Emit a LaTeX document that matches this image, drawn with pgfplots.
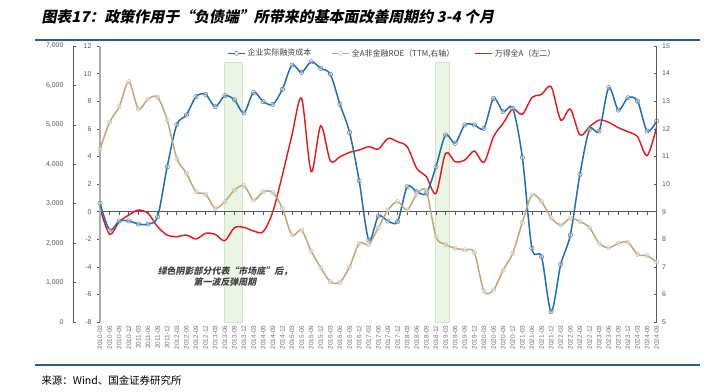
\documentclass[border=0pt]{standalone}
\usepackage{pgfplots}
\pgfplotsset{compat=1.18}
\usepackage{fontspec}
\setmainfont{Liberation Sans}
\newfontfamily\cjk{Noto Sans CJK SC}
\newfontfamily\cjksl{Noto Sans CJK SC}[FakeSlant=0.2]
\definecolor{cBlue}{HTML}{1F6EB4}
\definecolor{cTan}{HTML}{C4A676}
\definecolor{cRed}{HTML}{E8141C}
\definecolor{cBand}{HTML}{EAF5E4}
\definecolor{cBandEdge}{HTML}{D2E4CB}
\definecolor{cRule}{HTML}{2E5E82}
\definecolor{cAxis}{HTML}{595959}
\definecolor{cText}{HTML}{404040}

\pgfplotstableread{
i v
0 0.6
1 -1.33
2 -0.68
3 -0.68
4 -0.9
5 -0.9
6 -0.37
7 3.25
8 6.3
9 7.0
10 8.33
11 8.5
12 7.6
13 8.4
14 8.1
15 7.15
16 8.64
17 7.97
18 7.77
19 8.86
20 10.62
21 10.09
22 10.86
23 10.38
24 9.95
25 7.77
26 5.74
27 2.24
28 -2.06
29 -0.32
30 -0.68
31 -0.73
32 1.8
33 1.44
34 1.33
35 3.25
36 5.55
37 4.95
38 6.28
39 6.28
40 6.03
41 8.2
42 7.24
43 7.48
44 3.93
45 -2.66
46 -3.27
47 -7.25
48 -3.82
49 -1.7
50 2.7
51 5.96
52 5.84
53 8.98
54 7.36
55 8.25
56 8.01
57 5.84
58 6.57
}\blue

\pgfplotstableread{
i v
0 11.27
1 12.24
2 12.8
3 13.71
4 12.72
5 13.08
6 13.14
7 12.32
8 10.93
9 10.39
10 9.72
11 9.63
12 9.12
13 9.36
14 9.78
15 9.94
16 9.42
17 9.72
18 9.69
19 9.12
20 8.15
21 8.33
22 7.57
23 6.97
24 6.46
25 6.44
26 7.0
27 7.85
28 7.81
29 8.42
30 9.06
31 9.36
32 9.06
33 9.63
34 9.75
35 8.09
36 7.81
37 7.67
38 7.61
39 7.52
40 6.12
41 6.16
42 6.88
43 7.49
44 8.61
45 9.6
46 9.36
47 8.78
48 8.51
49 8.76
50 8.64
51 8.42
52 7.85
53 7.69
54 7.85
55 7.89
56 7.45
57 7.4
58 7.18
}\roe

\pgfplotstableread{
i v
0 2883
1 2224
2 2544
3 2713
4 2840
5 2756
6 2417
7 2206
8 2163
9 2206
10 2105
11 2249
12 2224
13 2062
14 2392
15 2400
16 2308
17 2290
18 2797
19 3728
20 4742
21 5673
22 3812
23 4978
24 4083
25 4193
26 4303
27 4362
28 4446
29 4387
30 4655
31 4573
32 4446
33 3897
34 3685
35 3263
36 4278
37 4066
38 4108
39 4336
40 4049
41 4700
42 5039
43 5402
44 5267
45 5690
46 5774
47 5968
48 5123
49 5402
50 4742
51 4953
52 5123
53 5064
54 4928
55 4826
56 4700
57 4218
58 4953
}\wind

\begin{document}
\begin{tikzpicture}[x=1bp,y=1bp]
\path[use as bounding box] (0,0) rectangle (708,391);

% title, rules, source
\node[anchor=west, font=\cjksl\bfseries\fontsize{15}{18}\selectfont, text=black] at (38,374) {图表17：政策作用于“负债端”所带来的基本面改善周期约 3-4 个月};
\draw[cRule, line width=2bp] (35,351) -- (700,351);
\draw[cRule, line width=2bp] (35,26) -- (700,26);
\node[anchor=west, font=\cjk\fontsize{10.5}{12}\selectfont, text=black] at (38,11) {来源：Wind、国金证券研究所};

% outer left axis: Wind A
\begin{axis}[at={(73bp,69bp)}, anchor=south west, scale only axis,
  width=583.7bp, height=276bp,
  xmin=-2.813, xmax=58, ymin=0, ymax=7000,
  axis x line=none, axis y line*=left,
  ytick={0,1000,...,7000}, tick align=inside, major tick length=3bp,
  y axis line style={draw=cAxis, line width=0.6bp},
  ytick style={draw=cAxis, line width=0.6bp},
  /pgf/number format/assume math mode=true,
  /pgf/number format/1000 sep={,},
  yticklabel style={font=\fontsize{7}{8}\selectfont, text=cAxis, xshift=-6bp}]
\addplot[fill=cBand, draw=cBandEdge, line width=0.5bp] coordinates {(12.92,0) (12.92,6594) (14.83,6594) (14.83,0)} -- cycle;
\addplot[fill=cBand, draw=cBandEdge, line width=0.5bp] coordinates {(34.9,0) (34.9,6594) (36.43,6594) (36.43,0)} -- cycle;
\addplot[cRed, line width=1.4bp, smooth, no markers] table[x=i, y=v] {\wind};
\end{axis}

% inner left axis: financing cost
\begin{axis}[at={(100bp,69bp)}, anchor=south west, scale only axis,
  width=556.7bp, height=276bp,
  xmin=0, xmax=58, ymin=-8, ymax=12,
  axis x line*=middle, axis y line*=left,
  xtick={0,...,58}, xticklabels={},
  ytick={-8,-6,...,12}, tick align=outside, major tick length=3bp,
  y axis line style={draw=gray!65, line width=1.8bp},
  x axis line style={draw=cAxis, line width=0.6bp},
  xtick style={draw=cAxis, line width=0.6bp},
  ytick style={draw=cAxis, line width=0.6bp},
  /pgf/number format/assume math mode=true,
  yticklabel style={font=\fontsize{7}{8}\selectfont, text=cAxis, xshift=-2bp}]
\addplot[cBlue, line width=1.5bp, smooth, mark=*, mark size=2.2bp,
  mark options={fill=white, fill opacity=0.35, draw=gray!60!cBlue, line width=0.5bp}] table[x=i, y=v] {\blue};
\end{axis}

% right axis: ROE
\begin{axis}[at={(100bp,69bp)}, anchor=south west, scale only axis,
  width=556.7bp, height=276bp,
  xmin=0, xmax=58, ymin=5, ymax=15,
  axis x line*=bottom, axis y line*=right,
  x axis line style={draw=none},
  xtick={0,...,58},
  xticklabels={2010-03,2010-06,2010-09,2010-12,2011-03,2011-06,2011-09,2011-12,2012-03,2012-06,2012-09,2012-12,2013-03,2013-06,2013-09,2013-12,2014-03,2014-06,2014-09,2014-12,2015-03,2015-06,2015-09,2015-12,2016-03,2016-06,2016-09,2016-12,2017-03,2017-06,2017-09,2017-12,2018-03,2018-06,2018-09,2018-12,2019-03,2019-06,2019-09,2019-12,2020-03,2020-06,2020-09,2020-12,2021-03,2021-06,2021-09,2021-12,2022-03,2022-06,2022-09,2022-12,2023-03,2023-06,2023-09,2023-12,2024-03,2024-06,2024-09},
  xtick style={draw=none},
  xticklabel style={rotate=90, anchor=east, font=\fontsize{6.5}{7}\selectfont, text=cAxis!85, xshift=0bp},
  ytick={5,...,15}, tick align=inside, major tick length=3bp,
  y axis line style={draw=cAxis, line width=0.6bp},
  ytick style={draw=cAxis, line width=0.6bp},
  /pgf/number format/assume math mode=true,
  yticklabel style={font=\fontsize{7}{8}\selectfont, text=cAxis, xshift=2bp},
  legend columns=3,
  legend style={at={(0.525,1.0)}, anchor=north, draw=none, fill=none,
    font=\cjk\fontsize{8}{9}\selectfont, text=cText, inner sep=1bp,
    /tikz/every even column/.append style={column sep=18bp}}]
\addlegendimage{cBlue, line width=1.5bp, mark=*, mark size=2bp, mark options={fill=white, draw=gray!60!cBlue, line width=0.5bp}}
\addlegendentry{企业实际融资成本}
\addlegendimage{cTan, line width=1.5bp, mark=*, mark size=2bp, mark options={fill=white, draw=gray!50, line width=0.5bp}}
\addlegendentry{全A非金融ROE（TTM,右轴）}
\addlegendimage{cRed, line width=1.4bp}
\addlegendentry{万得全A（左二）}
\addplot[cTan, line width=1.5bp, smooth, mark=*, mark size=2.2bp, forget plot,
  mark options={fill=white, fill opacity=0.35, draw=gray!50, line width=0.5bp}] table[x=i, y=v] {\roe};
\end{axis}

% annotation
\node[font=\cjksl\bfseries\fontsize{9}{11}\selectfont, text=cText, align=center] at (225,114.5) {绿色阴影部分代表“市场底”后，\\第一波反弹周期};
\end{tikzpicture}
\end{document}
